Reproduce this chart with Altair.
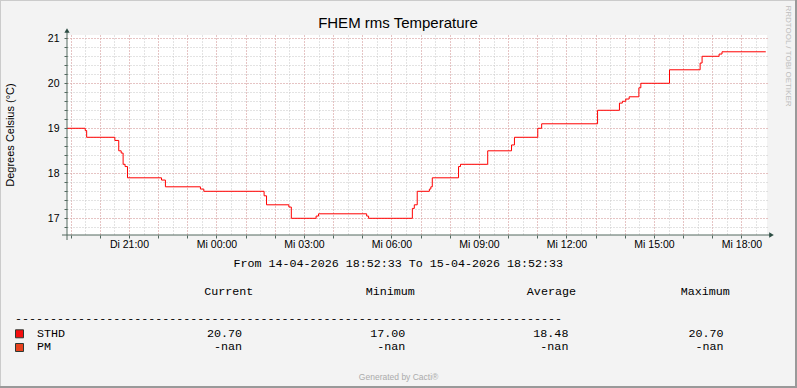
import altair as alt
import pandas as pd

# ---------------- data ----------------
times = [
    "2026-04-14T18:52:33Z", "2026-04-14T19:30:00Z", "2026-04-14T19:33:00Z",
    "2026-04-14T20:31:00Z", "2026-04-14T20:39:00Z", "2026-04-14T20:44:00Z",
    "2026-04-14T20:48:00Z", "2026-04-14T20:52:00Z", "2026-04-14T20:57:00Z",
    "2026-04-14T22:07:00Z", "2026-04-14T22:15:00Z", "2026-04-14T23:27:00Z",
    "2026-04-14T23:34:00Z", "2026-04-15T01:38:00Z", "2026-04-15T01:43:00Z",
    "2026-04-15T02:29:00Z", "2026-04-15T02:34:00Z", "2026-04-15T03:25:00Z",
    "2026-04-15T03:30:00Z", "2026-04-15T05:09:00Z", "2026-04-15T05:13:00Z",
    "2026-04-15T06:43:00Z", "2026-04-15T06:47:00Z", "2026-04-15T06:53:00Z",
    "2026-04-15T07:18:00Z", "2026-04-15T07:21:00Z", "2026-04-15T07:24:00Z",
    "2026-04-15T08:18:00Z", "2026-04-15T08:22:00Z", "2026-04-15T09:18:00Z",
    "2026-04-15T10:07:00Z", "2026-04-15T10:13:00Z", "2026-04-15T11:01:00Z",
    "2026-04-15T11:09:00Z", "2026-04-15T13:04:00Z", "2026-04-15T13:49:00Z",
    "2026-04-15T13:55:00Z", "2026-04-15T14:02:00Z", "2026-04-15T14:09:00Z",
    "2026-04-15T14:29:00Z", "2026-04-15T14:33:00Z", "2026-04-15T15:32:00Z",
    "2026-04-15T16:35:00Z", "2026-04-15T16:39:00Z", "2026-04-15T17:14:00Z",
    "2026-04-15T17:20:00Z", "2026-04-15T18:50:00Z",
]
temps = [
    19.0, 18.95, 18.8, 18.73, 18.5, 18.45, 18.2, 18.15, 17.9, 17.85, 17.7,
    17.65, 17.6, 17.5, 17.3, 17.25, 17.0, 17.05, 17.1, 17.05, 17.0, 17.22,
    17.3, 17.6, 17.65, 17.7, 17.9, 18.15, 18.2, 18.5, 18.63, 18.8, 19.0,
    19.1, 19.4, 19.56, 19.6, 19.65, 19.7, 19.9, 20.0, 20.3, 20.45, 20.6,
    20.65, 20.7, 20.7,
]
range_start = "2026-04-14T18:52:33Z"
range_end = "2026-04-15T18:52:33Z"

y_minor_ticks = [16.8, 17.0, 17.2, 17.4, 17.6, 17.8, 18.0, 18.2, 18.4, 18.6,
                 18.8, 19.0, 19.2, 19.4, 19.6, 19.8, 20.0, 20.2, 20.4, 20.6,
                 20.8, 21.0]
y_major_ticks = [17, 18, 19, 20, 21]

legend_names = ["STHD", "PM"]
legend_colors = ["#F50F0F", "#E8421E"]
stat_headers = ["Current", "Minimum", "Average", "Maximum"]
sthd_stats = ["20.70", "17.00", "18.48", "20.70"]
pm_stats = ["-nan", "-nan", "-nan", "-nan"]

title_text = "FHEM rms Temperature"
y_title_text = "Degrees Celsius (°C)"
period_text = "From 14-04-2026 18:52:33 To 15-04-2026 18:52:33"
footer_text = "Generated by Cacti®"
side_text = "RRDTOOL / TOBI OETIKER"
dash_text = "-" * 78

# ---------------- layout / style ----------------
W, H = 700, 200
PL, PT = 67, 35              # plot origin inside the 797x388 canvas
AXIS_C = "#2C4D43"
AXIS_LINE_C = "#52695F"
MINOR_C = "#C6C6C6"
MAJOR_C = "#E8A4A4"
GRID_DASH = [1, 2]
SANS = "Liberation Sans"
MONO = "Liberation Mono"

df = pd.DataFrame({"t": times, "v": temps})


def ms(ts):
    return int(pd.Timestamp(ts).value // 1_000_000)


t0, t1 = ms(range_start), ms(range_end)
# tick positions on the time axis (every 30 min / 1 h / 3 h, UTC)
half_hours = [ms(t) for t in pd.date_range(pd.Timestamp(range_start).ceil("30min"),
                                           pd.Timestamp(range_end), freq="30min")]
hours = [ms(t) for t in pd.date_range(pd.Timestamp(range_start).ceil("1h"),
                                      pd.Timestamp(range_end), freq="1h")]
three_hours = [ms(t) for t in pd.date_range(pd.Timestamp(range_start).ceil("3h"),
                                            pd.Timestamp(range_end), freq="3h")]

x_scale = alt.Scale(type="utc", domain=[t0, t1], nice=False)
y_scale = alt.Scale(domain=[16.629, 21.073], nice=False, zero=False)

base = alt.Chart(df)

minor = base.mark_line(strokeOpacity=0).encode(
    x=alt.X("t:T", scale=x_scale, axis=alt.Axis(
        orient="bottom", grid=True, gridColor=MINOR_C, gridDash=GRID_DASH,
        values=half_hours, labels=False, ticks=False, domain=False, title=None)),
    y=alt.Y("v:Q", scale=y_scale, axis=alt.Axis(
        orient="left", values=y_minor_ticks, grid=True, gridColor=MINOR_C,
        gridDash=GRID_DASH, labels=False, ticks=True, tickSize=3,
        tickColor=AXIS_LINE_C, domain=False, title=None)),
)

major = base.mark_line(strokeOpacity=0).encode(
    x=alt.X("t:T", scale=x_scale, axis=alt.Axis(
        orient="bottom", grid=True, gridColor=MAJOR_C, gridDash=GRID_DASH,
        values=hours, labels=False, ticks=True, tickSize=3, tickColor=AXIS_LINE_C,
        domain=False, title=None)),
    y=alt.Y("v:Q", scale=y_scale, axis=alt.Axis(
        orient="left", values=y_major_ticks, grid=True, gridColor=MAJOR_C,
        gridDash=GRID_DASH, labels=True, ticks=False, tickSize=0,
        labelPadding=8, labelFont=SANS, labelFontSize=10.5,
        labelColor="#000000", domain=False, title=None)),
)

line = base.mark_line(color="#FF0000", strokeWidth=1, interpolate="step-after").encode(
    x=alt.X("t:T", scale=x_scale, axis=alt.Axis(
        orient="bottom", grid=False, ticks=False, domain=False, title=None,
        values=three_hours,
        labelExpr="(utcday(datum.value) == 2 ? 'Di ' : 'Mi ') + utcFormat(datum.value, '%H:%M')",
        labelFont=SANS, labelFontSize=10.5, labelColor="#000000",
        labelPadding=4)),
    y=alt.Y("v:Q", scale=y_scale, axis=None),
)

one = pd.DataFrame({"k": [0]})
decor = []

# axis lines and arrows
decor.append(alt.Chart(one).mark_rule(color=AXIS_LINE_C, strokeWidth=1).encode(
    x=alt.value(0), y=alt.value(-3), y2=alt.value(205)))
decor.append(alt.Chart(one).mark_rule(color=AXIS_LINE_C, strokeWidth=1).encode(
    x=alt.value(-5), x2=alt.value(703), y=alt.value(H)))
decor.append(alt.Chart(one).mark_point(shape="triangle-up", filled=True, color=AXIS_C,
                                       opacity=1, size=28).encode(
    x=alt.value(0), y=alt.value(-4.5)))
decor.append(alt.Chart(one).mark_point(shape="triangle-right", filled=True, color=AXIS_C,
                                       opacity=1, size=28).encode(
    x=alt.value(704.5), y=alt.value(H)))

# frame of the whole picture
decor.append(alt.Chart(one).mark_rule(color="#CBCBCB", strokeWidth=1).encode(
    x=alt.value(-PL + 0.5), y=alt.value(-PT), y2=alt.value(388 - PT)))
decor.append(alt.Chart(one).mark_rule(color="#CBCBCB", strokeWidth=1).encode(
    x=alt.value(-PL), x2=alt.value(797 - PL), y=alt.value(-PT + 0.5)))
decor.append(alt.Chart(one).mark_rule(color="#999999", strokeWidth=2).encode(
    x=alt.value(797 - PL - 1), y=alt.value(-PT), y2=alt.value(388 - PT)))
decor.append(alt.Chart(one).mark_rule(color="#999999", strokeWidth=2).encode(
    x=alt.value(-PL), x2=alt.value(797 - PL), y=alt.value(388 - PT - 1)))


def text_layer(s, x, y, size, font=SANS, color="#000000", align="center",
               baseline="alphabetic", angle=0):
    return alt.Chart(pd.DataFrame({"s": [s]})).mark_text(
        font=font, fontSize=size, color=color, align=align, baseline=baseline,
        angle=angle).encode(text="s:N", x=alt.value(x - PL), y=alt.value(y - PT))


decor.append(text_layer(title_text, 398, 28.3, 15))
decor.append(text_layer(y_title_text, 10.5, 135, 11, baseline="middle", angle=270))
decor.append(text_layer(side_text, 788, 56, 8, color="#BDBDBD", baseline="middle", angle=90))
decor.append(text_layer(period_text, 398.3, 266.7, 11.7, font=MONO))
decor.append(text_layer(footer_text, 398.6, 380, 8.5, color="#ABABAB"))
decor.append(text_layer(dash_text, 15, 322, 11.7, font=MONO, align="left"))

header_cx = [228.8, 390.2, 551.4, 705.3]
value_rx = [242, 405.3, 568.4, 723.5]
row_base = [336.5, 350.3]
swatch_cy = [333.8, 347.5]

for h, cx in zip(stat_headers, header_cx):
    decor.append(text_layer(h, cx, 294.5, 11.7, font=MONO))

for i, (name, col) in enumerate(zip(legend_names, legend_colors)):
    decor.append(alt.Chart(pd.DataFrame({"n": [name]})).mark_square(
        size=64, filled=True, color=col, opacity=1, stroke="#2C3A34",
        strokeWidth=1).encode(x=alt.value(19.5 - PL), y=alt.value(swatch_cy[i] - PT)))
    decor.append(text_layer(name, 37, row_base[i], 11.7, font=MONO, align="left"))

for vals, yb in zip([sthd_stats, pm_stats], row_base):
    for s, rx in zip(vals, value_rx):
        decor.append(text_layer(s, rx, yb, 11.7, font=MONO, align="right"))

chart = alt.layer(minor, major, line, *decor).resolve_axis(
    x="independent", y="independent"
).properties(
    width=W, height=H, autosize="none",
    padding={"left": PL, "top": PT, "right": 797 - PL - W, "bottom": 388 - PT - H},
).configure(background="#F3F3F3").configure_view(fill="#FFFFFF", strokeWidth=0)

chart.save("out.html", embed_options={"renderer": "svg", "actions": False})
